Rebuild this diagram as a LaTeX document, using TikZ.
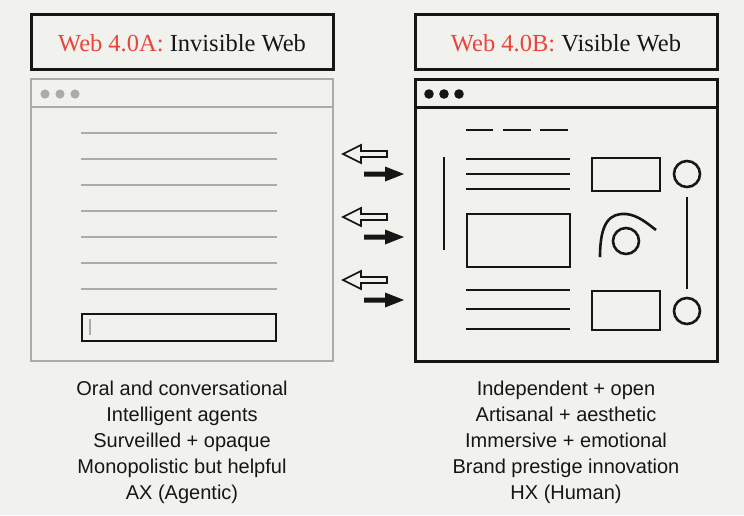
\documentclass[tikz,border=0pt]{standalone}
\usepackage{fontspec}
\setmainfont{Liberation Serif}
\setsansfont{Liberation Sans}
\usepackage{xcolor}
\usepackage{tikz}
\usetikzlibrary{positioning}
\definecolor{webpaper}{HTML}{F1F1ED}
\definecolor{webink}{HTML}{161616}
\definecolor{webgrey}{HTML}{ABABAB}
\definecolor{webred}{HTML}{E8453C}

\begin{document}
\begin{tikzpicture}[x=1pt, y=1pt, line cap=butt, line join=miter,
  titletext/.style={anchor=base, inner sep=0, text=webink, font=\fontsize{24.5}{28}\selectfont},
  listtext/.style={anchor=base, inner sep=0, text=webink, font=\sffamily\fontsize{20}{24}\selectfont},
  inkline/.style={webink, line width=2.4},
  greyline/.style={webgrey, line width=2}]
  % paper
  \fill[webpaper] (0,0) rectangle (744,-515);
  % title boxes
  \draw[webink, line width=3] (31,-14) rectangle (333,-69);
  \draw[webink, line width=3] (415,-14) rectangle (717,-69);
  \node[titletext] (titleA) at (182,-51) {\textcolor{webred}{Web 4.0A:} Invisible Web};
  \node[titletext] (titleB) at (566,-51) {\textcolor{webred}{Web 4.0B:} Visible Web};
  % invisible web browser
  \draw[webgrey, line width=2.8] (31,-79) rectangle (333,-361);
  \draw[webgrey, line width=2.8] (31,-107) -- (333,-107);
  \foreach \x in {45,60,75}
    \fill[webgrey] (\x,-94) circle (4.6);
  \foreach \y in {133,159,...,289}
    \draw[greyline] (81,-\y) -- (277,-\y);
  \draw[webink, line width=2.6] (82,-314) rectangle (276,-341);
  \draw[webgrey, line width=1.6] (90,-319) -- (90,-335);
  % visible web browser
  \draw[webink, line width=3] (415,-79) rectangle (717,-361);
  \draw[webink, line width=3] (415,-107) -- (717,-107);
  \foreach \x in {429,444,459}
    \fill[webink] (\x,-94) circle (4.8);
  \foreach \xa/\xb in {466/493,503/531,540/568}
    \draw[inkline] (\xa,-130) -- (\xb,-130);
  \draw[inkline] (444,-157) -- (444,-250);
  \foreach \y in {159,174,189,290,309,329}
    \draw[inkline] (466,-\y) -- (570,-\y);
  \draw[webink, line width=2.8] (467,-214) rectangle (570,-267);
  \draw[webink, line width=2.8] (592,-158) rectangle (660,-191);
  \draw[webink, line width=2.8] (592,-291) rectangle (660,-330);
  \draw[webink, line width=2.6] (687,-174) circle (13);
  \draw[webink, line width=2.6] (687,-311) circle (13);
  \draw[inkline] (687,-197) -- (687,-289);
  \draw[webink, line width=2.6] (600,-257) .. controls (600,-222) and (610,-213) .. (626,-214)
    .. controls (638,-215) and (648,-224) .. (656,-230);
  \draw[webink, line width=2.6] (626,-241) circle (13);
  % exchange arrows
  \foreach \y in {154,217,280} {
    \filldraw[fill=webpaper, draw=webink, line width=1.7]
      (343,-\y) -- (361,{-\y+9}) -- (361,{-\y+3}) -- (387,{-\y+3})
      -- (387,{-\y-3}) -- (361,{-\y-3}) -- (361,{-\y-9}) -- cycle;
    \fill[webink]
      (364,{-\y-17.5}) -- (385,{-\y-17.5}) -- (385,{-\y-12.5}) -- (404,{-\y-20})
      -- (385,{-\y-27.5}) -- (385,{-\y-22.5}) -- (364,{-\y-22.5}) -- cycle;
  }
  % traits
  \foreach \txt [count=\i] in {Oral and conversational, Intelligent agents,
      Surveilled + opaque, Monopolistic but helpful, AX (Agentic)}
    \node[listtext] (traitA\i) at (182,{-395-26*(\i-1)}) {\txt};
  \foreach \txt [count=\i] in {Independent + open, Artisanal + aesthetic,
      Immersive + emotional, Brand prestige innovation, HX (Human)}
    \node[listtext] (traitB\i) at (566,{-395-26*(\i-1)}) {\txt};
\end{tikzpicture}
\end{document}
